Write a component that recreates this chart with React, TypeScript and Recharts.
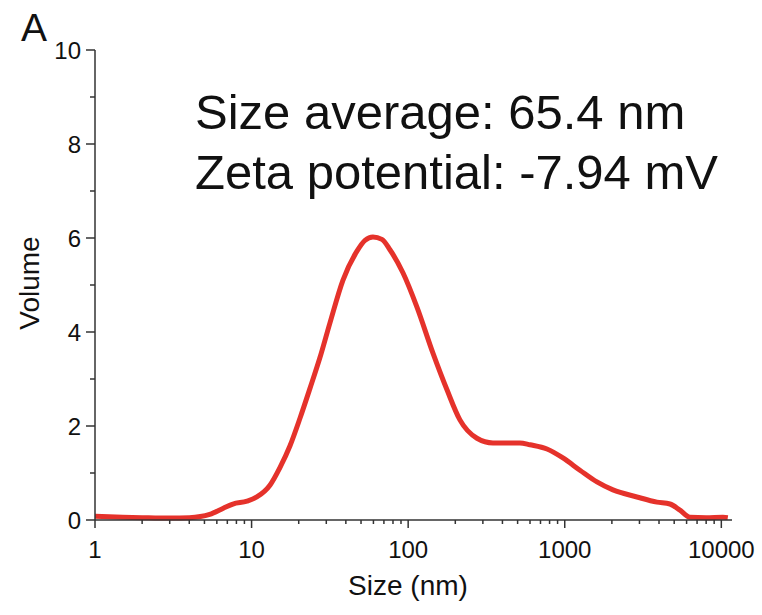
import React from "react";
import { LineChart, Line, XAxis, YAxis } from "recharts";

if (typeof document !== "undefined") {
  document.body.style.margin = "0";
}

// Size (nm) and Volume values
const sizes = [
  1, 1.5, 2, 3, 4, 5.4, 6.6, 7.6, 9.35, 10.8, 13.1, 15.2, 17.6, 20.4, 23.6, 27.3,
  31.7, 38.3, 47.1, 53, 59.6, 68, 76.5, 92.6, 113.8, 144, 177, 214, 275, 348, 517,
  600, 770, 974, 1250, 1606, 2032, 2891, 3880, 4697, 5440, 6302, 8000, 10240, 11000,
];
const volumes = [
  0.08, 0.06, 0.05, 0.04, 0.05, 0.12, 0.25, 0.34, 0.4, 0.49, 0.74, 1.12, 1.58, 2.17,
  2.8, 3.45, 4.2, 5.1, 5.72, 5.95, 6.02, 5.97, 5.75, 5.26, 4.53, 3.55, 2.77, 2.13,
  1.74, 1.64, 1.64, 1.6, 1.51, 1.32, 1.06, 0.81, 0.64, 0.49, 0.38, 0.34, 0.21, 0.06,
  0.05, 0.06, 0.05,
];

const xMajor = [1, 10, 100, 1000, 10000];
const xTicks = [
  1, 2, 3, 4, 5, 6, 7, 8, 9,
  10, 20, 30, 40, 50, 60, 70, 80, 90,
  100, 200, 300, 400, 500, 600, 700, 800, 900,
  1000, 2000, 3000, 4000, 5000, 6000, 7000, 8000, 9000,
  10000,
];
const yTicks = [0, 1, 2, 3, 4, 5, 6, 7, 8, 9, 10];
const yMajor = [0, 2, 4, 6, 8, 10];

const annotationLines = ["Size average: 65.4 nm", "Zeta potential: -7.94 mV"];
const panelLetter = "A";
const xLabel = "Size (nm)";
const yLabel = "Volume";

const data = sizes.map((s, i) => ({ size: s, volume: volumes[i] }));

const FONT = "'Liberation Sans', Arial, sans-serif";
const AXIS = "#333333";
const TEXT = "#111111";

const XTick = (props: any) => {
  const { x, y, payload } = props;
  const v = payload.value;
  const major = xMajor.includes(v);
  return (
    <g>
      <line x1={x} x2={x} y1={y} y2={y + (major ? 8 : 4)} stroke={AXIS} strokeWidth={1.5} />
      {major && (
        <text x={x} y={y + 38} textAnchor="middle" fontSize={24} fill={TEXT} fontFamily={FONT}>
          {v}
        </text>
      )}
    </g>
  );
};

const YTick = (props: any) => {
  const { x, y, payload } = props;
  const v = payload.value;
  const major = yMajor.includes(v);
  return (
    <g>
      <line x1={x} x2={x - (major ? 9 : 5)} y1={y} y2={y} stroke={AXIS} strokeWidth={1.5} />
      {major && (
        <text x={x - 14} y={y + 8.5} textAnchor="end" fontSize={24} fill={TEXT} fontFamily={FONT}>
          {v}
        </text>
      )}
    </g>
  );
};

export default function App() {
  return (
    <div style={{ position: "relative", width: 762, height: 615, background: "#fff" }}>
      <LineChart
        width={762}
        height={615}
        data={data}
        margin={{ top: 50, right: 30, bottom: 35, left: 35 }}
      >
        <XAxis
          dataKey="size"
          type="number"
          scale="log"
          domain={[1, 11700]}
          allowDataOverflow
          ticks={xTicks}
          interval={0}
          height={60}
          tickSize={0}
          tickMargin={0}
          tickLine={false}
          axisLine={{ stroke: AXIS, strokeWidth: 1.5 }}
          tick={(p: any) => <XTick {...p} />}
        />
        <YAxis
          type="number"
          domain={[0, 10]}
          ticks={yTicks}
          interval={0}
          width={60}
          tickSize={0}
          tickMargin={0}
          tickLine={false}
          axisLine={{ stroke: AXIS, strokeWidth: 1.5 }}
          tick={(p: any) => <YTick {...p} />}
        />
        <Line
          dataKey="volume"
          type="monotone"
          stroke="#e5322b"
          strokeWidth={5}
          dot={false}
          isAnimationActive={false}
        />
      </LineChart>
      <svg
        width={762}
        height={615}
        style={{ position: "absolute", left: 0, top: 0, pointerEvents: "none" }}
      >
        <text x={21} y={41} fontSize={39} fill={TEXT} fontFamily={FONT}>
          {panelLetter}
        </text>
        <text x={195} y={129} fontSize={49} fill={TEXT} fontFamily={FONT}>
          {annotationLines[0]}
        </text>
        <text x={195} y={189} fontSize={49} fill={TEXT} fontFamily={FONT}>
          {annotationLines[1]}
        </text>
        <text x={408} y={595} textAnchor="middle" fontSize={28} fill={TEXT} fontFamily={FONT}>
          {xLabel}
        </text>
        <text
          x={0}
          y={0}
          transform="translate(39,283) rotate(-90)"
          textAnchor="middle"
          fontSize={28}
          fill={TEXT}
          fontFamily={FONT}
        >
          {yLabel}
        </text>
      </svg>
    </div>
  );
}
